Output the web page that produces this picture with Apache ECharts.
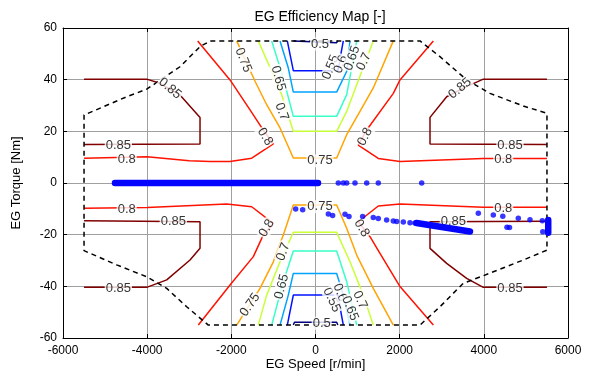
<!DOCTYPE html>
<html>
<head>
<meta charset="utf-8">
<script src="https://cdn.jsdelivr.net/npm/echarts@6/dist/echarts.min.js"></script>
<style>html,body{margin:0;padding:0;background:#fff}#c{width:590px;height:373px}</style>
</head>
<body>
<div id="c"></div>
<script>
// ---- axis ticks ----
const xTicks = [-6000, -4000, -2000, 0, 2000, 4000, 6000];
const yTicks = [-60, -40, -20, 0, 20, 40, 60];

// ---- max torque boundary (dashed) ----
const boundary = [[-2500,55],[2483,55],[2958,48.9],[3592,39.9],[4146,34.7],[4938,29.8],[5500,27],
  [5500,-26],[4938,-29.8],[3987,-35.9],[3512,-38.8],[2958,-47.9],[2483,-55],
  [-2547,-55],[-3061,-47.9],[-3535,-40.8],[-4011,-36.3],[-4724,-31.7],[-5500,-26.2],
  [-5500,26.3],[-4486,33.4],[-4011,36.3],[-3220,45],[-2744,52.8],[-2500,55]];

// ---- contour lines (efficiency levels) ----
const c85 = [
  [[-5500,40.2],[-4011,40.2],[-3735,38.8],[-3220,34.1],[-2744,25.4],[-2744,15.1],[-5500,14.9]],
  [[5500,40.2],[3987,40.2],[3550,37],[3117,33.4],[2721,25.4],[2721,15.1],[5500,14.9]],
  [[5500,-14.8],[2721,-15],[2721,-25.3],[3117,-31.1],[3592,-36.9],[3987,-40.4],[5500,-40.4]],
  [[-5500,-14.6],[-2744,-15],[-2744,-25.3],[-2982,-29.8],[-3535,-37.5],[-4011,-40.4],[-5500,-40.4]]
];
const c80 = [
  [[-5500,9.6],[-4000,10.2],[-3000,8.6],[-2506,8.3],[-2031,8.3],[-1516,9.6],[-1002,15.1],[-1240,20.5],[-1556,28.3],[-2031,39.9],[-2800,55]],
  [[5500,9.5],[3987,9.5],[2008,8.3],[1492,9.5],[1017,14.7],[1216,20.5],[1849,34.7],[2008,39.9],[2800,55]],
  [[5500,-9.4],[3987,-9.4],[2008,-8.1],[1492,-8.9],[1017,-15],[1295,-20.8],[1532,-27.2],[2008,-40.1],[2800,-55]],
  [[-5500,-9.8],[-4000,-9.5],[-2110,-8.1],[-1516,-9.2],[-1002,-15.6],[-1240,-20.1],[-1477,-28.5],[-2031,-39.5],[-2784,-55]]
];
const c75 = [
  [[-1873,55],[-1437,39.4],[-1160,30.3],[-843,21.3],[-527,9.7],[503,9.7],[741,18.7],[1057,27.7],[1373,36.8],[1849,55]],
  [[-1873,-55],[-1319,-40.8],[-1002,-30.5],[-765,-20.1],[-527,-8.5],[503,-8.5],[741,-17.5],[979,-27.9],[1373,-40.8],[1849,-55]]
];
const c70 = [
  [[-1359,55],[-1041,43.2],[-803,34.2],[-527,20],[503,20],[741,27.7],[979,38],[1373,55]],
  [[-1359,-55],[-1160,-43.4],[-843,-30.5],[-527,-19.1],[503,-19.1],[820,-30.5],[1136,-43.4],[1373,-55]]
];
const c65 = [
  [[-1041,55],[-765,40.6],[-527,25.8],[503,25.8],[741,34.2],[979,55]],
  [[-1041,-55],[-765,-38.2],[-527,-26.3],[503,-26.3],[741,-38.2],[979,-55]]
];
const c60 = [
  [[-843,55],[-646,44.5],[-527,35.2],[503,35.2],[741,43.2],[820,55]],
  [[-843,-55],[-646,-43.4],[-527,-35],[503,-35],[661,-43.4],[820,-55]]
];
const c55 = [
  [[-670,55],[-527,43.5],[530,43.5],[661,55]],
  [[-670,-55],[-527,-43.4],[530,-43.4],[661,-55]]
];
const c50 = [
  [[-527,55],[-500,54.3],[503,54.3],[530,55]],
  [[-527,-55],[-500,-53.9],[503,-53.9],[530,-55]]
];
const levelNames = ['0.5','0.55','0.6','0.65','0.7','0.75','0.8','0.85'];
const levelLines = [c50, c55, c60, c65, c70, c75, c80, c85];
const levelColors = ['#000080','#0012ff','#00a4ff','#37ffc8','#c8ff37','#ffa400','#ff1200','#800000'];

// ---- contour labels: [x, y, text, rotation] ----
const contourLabels = [
  [-3457,36.6,'0.85',-40],[-4685,14.4,'0.85',0],[-4486,9.3,'0.8',0],
  [-1715,47.6,'0.75',-68],[-1200,17.9,'0.8',-58],[-884,40.5,'0.65',-75],[-803,27.6,'0.7',-70],
  [107,8.6,'0.75',0],[107,53.8,'0.5',0],
  [361,44.8,'0.55',68],[600,46,'0.6',70],[870,48.3,'0.65',70],[1150,47,'0.7',65],
  [1176,17.9,'0.8',62],[3433,36.6,'0.85',40],[4621,14.4,'0.85',0],[4462,9.3,'0.8',0],
  [-4486,-10.1,'0.8',0],[-3379,-15,'0.85',0],[-4685,-40.8,'0.85',0],
  [-1160,-17.5,'0.8',60],[-765,-26.6,'0.7',70],[-803,-40.1,'0.65',75],[-1556,-47.2,'0.75',55],
  [107,-9.2,'0.75',0],[147,-54.3,'0.5',0],
  [1097,-17.5,'0.8',-60],[385,-45.3,'0.55',-65],[582,-42.4,'0.6',-68],[820,-48.5,'0.65',-68],[1057,-45.3,'0.7',-65],
  [3275,-15,'0.85',0],[4462,-9.8,'0.8',0],[4621,-40.8,'0.85',0]
];

// ---- operating points ----
const opDense0 = [[-4764,0],[60,0]];
const opDenseBand = [[2400,-15.5],[3671,-18.8]];
const opDenseEnd = [[5530,-14.3],[5530,-19.3]];
const opPoints = [
  [542,0],[661,0],[741,0],[938,0],[1216,0],[1492,0],[2523,0],
  [-471,-10.1],[-305,-10.4],
  [305,-12],[407,-12.6],[701,-12.1],[796,-13],[1120,-13],[1373,-13.4],[1492,-13.7],[1690,-14.3],[1849,-14.7],
  [1929,-14.9],[2087,-15.1],[2245,-15.4],[2364,-15.5],
  [3869,-11.7],[4225,-12.4],[4450,-12.9],[4819,-13.6],[5097,-14.2],
  [4550,-17.1],[4610,-17.2],[5390,-14.6],[5400,-18.9]
];

const FONT = 'Liberation Sans, Arial, Helvetica, sans-serif';
const DOT = '#0505ff';
const series = [];
levelLines.forEach((lines, i) => {
  lines.forEach(pts => {
    series.push({type:'line', data: pts, symbol:'none', silent:true, z:3,
      lineStyle:{color: levelColors[i], width:1.5}});
  });
});
series.push({type:'line', data: boundary, symbol:'none', z:4,
  lineStyle:{color:'#000', width:1.5, type:[5,4]}});
series.push({type:'scatter', z:6, symbolSize:1, itemStyle:{color:'transparent'},
  data: contourLabels.map(l => ({value:[l[0], l[1]],
    label:{show:true, position:'inside', formatter:l[2], rotate:l[3]}})),
  label:{fontSize:13, fontFamily:FONT, color:'#000',
    backgroundColor:'#fff', padding:[0,1]}});
[opDense0, opDenseBand, opDenseEnd].forEach(pts => {
  series.push({type:'line', data: pts, symbol:'none', z:7,
    lineStyle:{color:DOT, width:6.5, cap:'round'}});
});
series.push({type:'scatter', data: opPoints, symbolSize:5.5, z:7,
  itemStyle:{color:DOT}});

const axisFont = {fontSize:12, fontFamily:FONT, color:'#000'};
const nameFont = {fontSize:13, fontFamily:FONT, color:'#000'};
const option = {
  animation:false,
  backgroundColor:'#fff',
  title:{text:'EG Efficiency Map [-]', left:315, top:5, textAlign:'center',
    textStyle:{fontSize:14, fontWeight:'normal', fontFamily:FONT, color:'#000'}},
  grid:{left:63, right:22, top:28, bottom:35, outerBoundsMode:'none', containLabel:false},
  xAxis:[
    {type:'value', min:xTicks[0], max:xTicks[xTicks.length-1], interval:2000,
     name:'EG Speed [r/min]', nameLocation:'middle', nameGap:20, nameMoveOverlap:false,
     nameTextStyle:nameFont,
     axisLine:{show:true, onZero:false, lineStyle:{color:'#000', width:1}},
     axisTick:{show:true, inside:true, length:4, lineStyle:{color:'#000'}},
     axisLabel:Object.assign({margin:7, formatter: v => String(v)}, axisFont),
     splitLine:{show:true, lineStyle:{color:'#a0a0a0', width:1}}},
    {type:'value', position:'top', min:xTicks[0], max:xTicks[xTicks.length-1], interval:2000,
     axisLine:{show:true, onZero:false, lineStyle:{color:'#000', width:1}},
     axisTick:{show:true, inside:true, length:4, lineStyle:{color:'#000'}},
     axisLabel:{show:false}, splitLine:{show:false}}
  ],
  yAxis:[
    {type:'value', min:yTicks[0], max:yTicks[yTicks.length-1], interval:20,
     name:'EG Torque [Nm]', nameLocation:'middle', nameGap:40, nameTextStyle:nameFont,
     axisLine:{show:true, onZero:false, lineStyle:{color:'#000', width:1}},
     axisTick:{show:true, inside:true, length:4, lineStyle:{color:'#000'}},
     axisLabel:Object.assign({margin:6, formatter: v => String(v)}, axisFont),
     splitLine:{show:true, lineStyle:{color:'#a0a0a0', width:1}}},
    {type:'value', position:'right', min:yTicks[0], max:yTicks[yTicks.length-1], interval:20,
     axisLine:{show:true, onZero:false, lineStyle:{color:'#000', width:1}},
     axisTick:{show:true, inside:true, length:4, lineStyle:{color:'#000'}},
     axisLabel:{show:false}, splitLine:{show:false}}
  ],
  series: series
};
const chart = echarts.init(document.getElementById('c'), null, {renderer:'canvas'});
chart.setOption(option);
</script>
</body>
</html>
